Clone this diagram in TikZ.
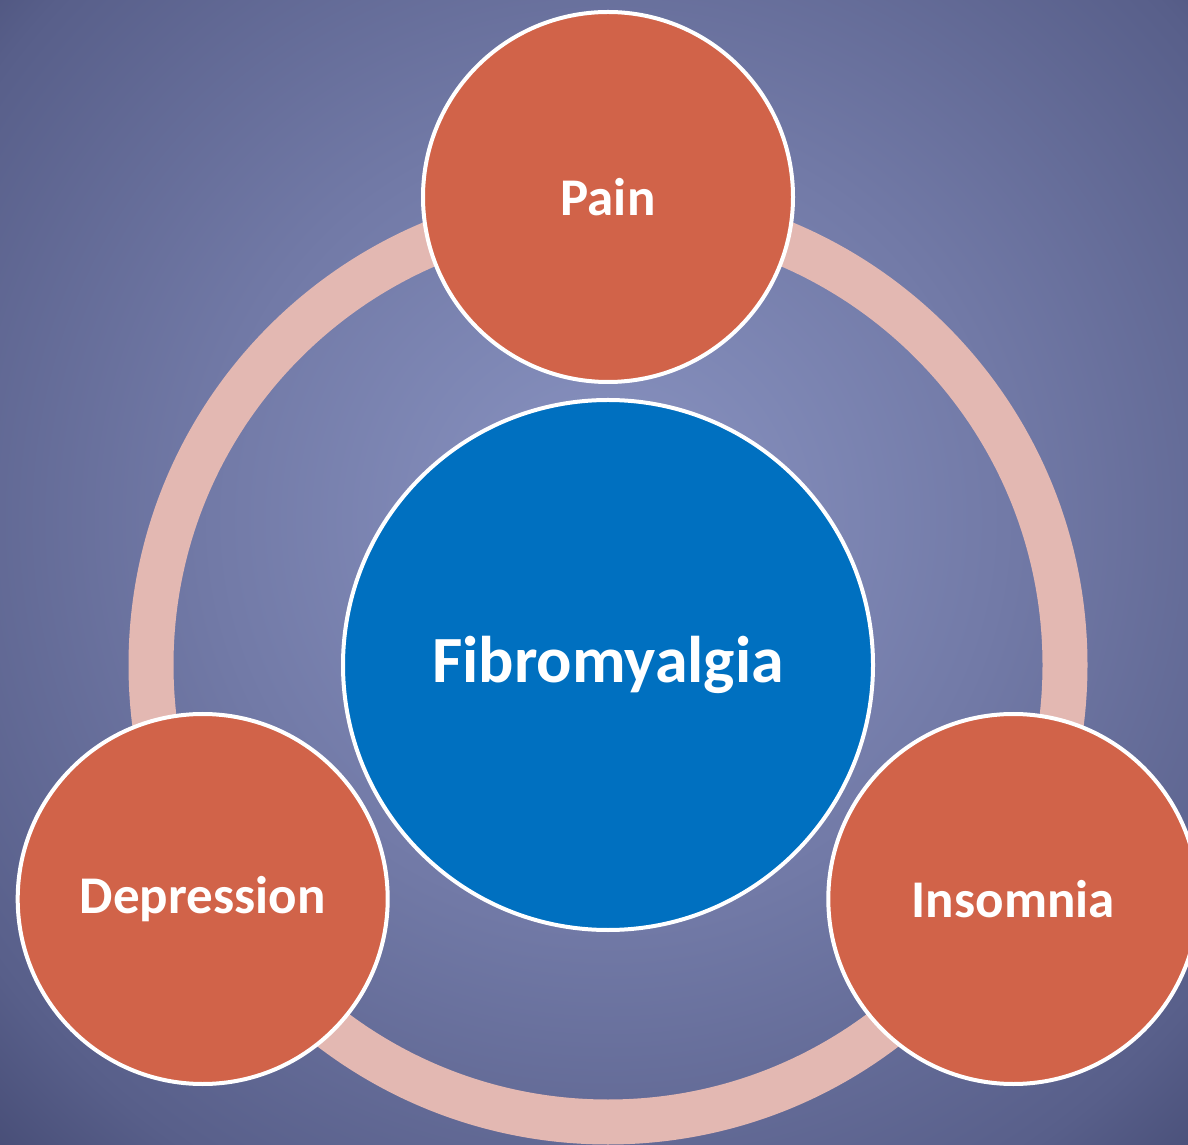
\documentclass[tikz,border=0pt]{standalone}
\usepackage{fontspec}
\setmainfont{Carlito}
\definecolor{bgdark}{HTML}{454B74}
\definecolor{bgmid}{HTML}{585F8A}
\definecolor{bgsoft}{HTML}{727AA7}
\definecolor{bglight}{HTML}{8A94C2}
\definecolor{ringrose}{HTML}{E3B8B2}
\definecolor{symorange}{HTML}{D16349}
\definecolor{coreblue}{HTML}{0070C0}
\usetikzlibrary{positioning, calc}
\pgfdeclareradialshading{backdrop}{\pgfpoint{0bp}{0bp}}{color(0bp)=(bglight);
  color(11bp)=(bgsoft); color(21bp)=(bgmid); color(25bp)=(bgdark); color(50bp)=(bgdark)}

\begin{document}
\begin{tikzpicture}[
    x=1pt, y=1pt,
    core/.style={circle, draw=white, line width=4pt, fill=coreblue,
                 minimum size=530pt, text=white, font=\bfseries\fontsize{66}{70}\selectfont},
    symptom/.style={circle, draw=white, line width=4pt, fill=symorange,
                    minimum size=370pt, text=white, font=\bfseries\fontsize{53}{57}\selectfont},
    ring/.style={draw=ringrose, line width=45pt}
  ]
  \useasboundingbox (0,0) rectangle (1188,1144);
  \clip (0,0) rectangle (1188,1144);
  % backdrop, lighter towards the middle
  \shade[shading=backdrop] (-292,-276) rectangle (1508,1524);
  \coordinate (mid) at (608,479);
  \draw[ring] (mid) circle (457);
  \node[core] (fibro) at (mid) {Fibromyalgia};
  \node[symptom] (pain) at ($(mid)+(90:468)$) {Pain};
  \node[symptom] (depr) at ($(mid)+(210:468)$) {Depression};
  \node[symptom] (insom) at ($(mid)+(330:468)$) {Insomnia};
\end{tikzpicture}
\end{document}
